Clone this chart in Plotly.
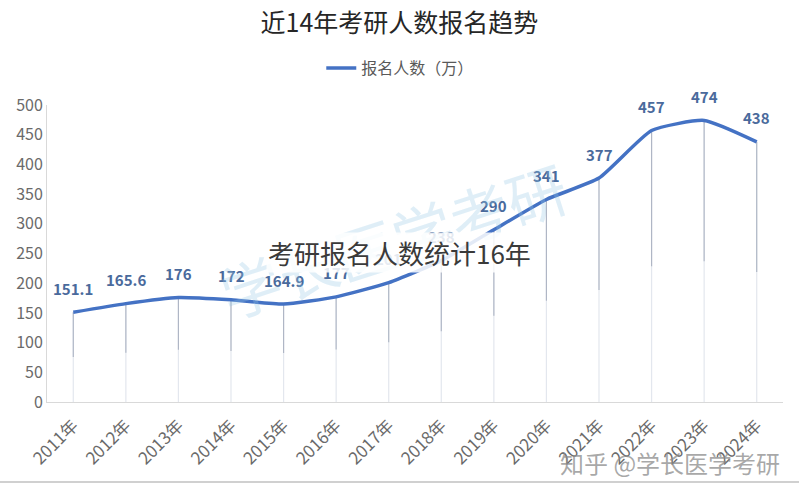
import plotly.graph_objects as go

years = ["2011年", "2012年", "2013年", "2014年", "2015年", "2016年", "2017年",
         "2018年", "2019年", "2020年", "2021年", "2022年", "2023年", "2024年"]
applicants = [151.1, 165.6, 176, 172, 164.9, 177, 201, 238, 290, 341, 377, 457, 474, 438]
labels = ["151.1", "165.6", "176", "172", "164.9", "177", "201", "238", "290",
          "341", "377", "457", "474", "438"]
y_ticks = [0, 50, 100, 150, 200, 250, 300, 350, 400, 450, 500]

FONT = "Noto Sans CJK SC"
LINE = "#4472c4"
LABEL = "#4a6a9c"

fig = go.Figure()

# drop lines (faint full length)
fig.add_trace(go.Scatter(
    x=years, y=applicants, mode="markers", marker=dict(size=0.1, color="rgba(0,0,0,0)"),
    error_y=dict(type="data", symmetric=False, array=[0] * len(applicants),
                 arrayminus=applicants, color="rgba(200,208,222,0.5)", thickness=1.2, width=0),
    showlegend=False, hoverinfo="skip"))
# drop lines (darker upper portion)
fig.add_trace(go.Scatter(
    x=years, y=applicants, mode="markers", marker=dict(size=0.1, color="rgba(0,0,0,0)"),
    error_y=dict(type="data", symmetric=False, array=[0] * len(applicants),
                 arrayminus=[v * 0.5 for v in applicants], color="rgba(140,150,170,0.6)",
                 thickness=1.2, width=0),
    showlegend=False, hoverinfo="skip"))

fig.add_trace(go.Scatter(
    x=years, y=applicants, mode="lines", name="报名人数（万）",
    line=dict(color=LINE, width=3.5, shape="spline", smoothing=0.5)))

for yr, v, lab in zip(years, applicants, labels):
    fig.add_annotation(x=yr, y=v, text=lab, showarrow=False, yshift=24,
                       font=dict(family=FONT, size=15, color=LABEL, weight="bold"))

fig.update_layout(
    width=799, height=490,
    margin=dict(l=47, r=16, t=105, b=88),
    paper_bgcolor="white", plot_bgcolor="white",
    font=dict(family=FONT, color="#595959"),
    title=dict(text="近14年考研人数报名趋势", x=0.5, xanchor="center",
               y=1 - 23 / 490, yanchor="middle",
               font=dict(family=FONT, size=25, color="#262626")),
    legend=dict(orientation="h", x=0.48, xanchor="center", yref="container",
                y=1 - 68 / 490, yanchor="middle",
                font=dict(family=FONT, size=16, color="#595959")),
    xaxis=dict(type="category", range=[-0.5, 13.5], tickangle=-45, showgrid=False,
               showline=True, automargin=False, ticklabelstandoff=6,
               linecolor="#d9d9d9", linewidth=1, ticks="",
               tickfont=dict(family=FONT, size=17, color="#6a6a6a")),
    yaxis=dict(range=[0, 500], tickvals=y_ticks, showgrid=False, showline=True,
               automargin=False,
               linecolor="#d9d9d9", linewidth=1, ticks="", zeroline=False,
               tickfont=dict(family=FONT, size=16, color="#6a6a6a")),
)

# diagonal faint watermark
fig.add_annotation(text="学长医学考研", xref="paper", yref="paper", x=0.47, y=0.55,
                   xanchor="center", yanchor="middle",
                   showarrow=False, textangle=-18,
                   font=dict(family=FONT, size=60, color="rgba(150,200,230,0.3)"))

# overlay caption
fig.add_annotation(text="考研报名人数统计16年", xref="paper", yref="paper",
                   x=(399 - 47) / 736, y=(402 - 252) / 297, showarrow=False,
                   xanchor="center", yanchor="middle",
                   bgcolor="rgba(255,255,255,0.85)", borderpad=1,
                   font=dict(family=FONT, size=26, color="#3a3a3a"))

# bottom watermark
fig.add_annotation(text="知乎 @学长医学考研", xref="paper", yref="paper",
                   x=(670 - 47) / 736, y=(402 - 462) / 297, showarrow=False,
                   xanchor="center", yanchor="middle",
                   font=dict(family=FONT, size=24, color="rgba(140,140,140,0.75)"))

# bottom border line
fig.add_shape(type="line", xref="paper", yref="paper", x0=-47 / 736, x1=(799 - 47) / 736,
              y0=(402 - 482) / 297, y1=(402 - 482) / 297,
              line=dict(color="#d0d0d0", width=2))

fig.write_html("out.html")
